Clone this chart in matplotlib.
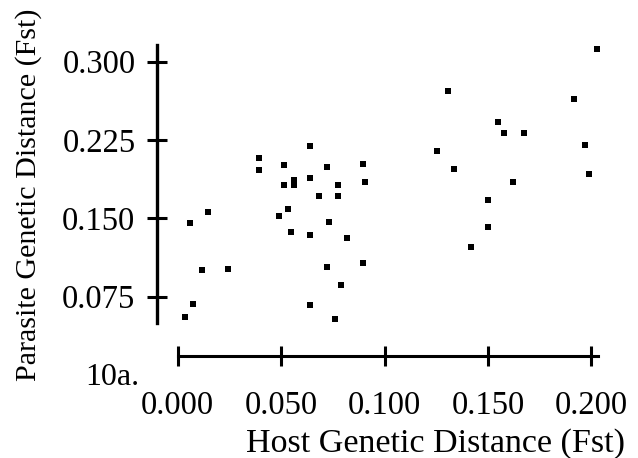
import numpy as np
import matplotlib.pyplot as plt

# ---------- data ----------
host_fst = [0.0640, 0.0395, 0.0515, 0.0720, 0.0895, 0.0395, 0.0561, 0.0640, 0.0907,
            0.0515, 0.0561, 0.0777, 0.0682, 0.0777, 0.0148, 0.0533, 0.0491, 0.0061,
            0.0733, 0.0548, 0.0640, 0.0817, 0.0118, 0.0243, 0.0723, 0.0896, 0.0790,
            0.0075, 0.0640, 0.0035, 0.0762,
            0.2028, 0.1307, 0.1918, 0.1550, 0.1579, 0.1676, 0.1254, 0.1971, 0.1338,
            0.1987, 0.1620, 0.1499, 0.1499, 0.1418]
parasite_fst = [0.219, 0.208, 0.201, 0.199, 0.202, 0.196, 0.187, 0.189, 0.1845,
                0.1816, 0.1816, 0.1819, 0.1716, 0.1716, 0.1557, 0.1586, 0.1519, 0.1455,
                0.1465, 0.1369, 0.1340, 0.1314, 0.1005, 0.1012, 0.1036, 0.1072, 0.0861,
                0.0679, 0.0667, 0.0552, 0.0538,
                0.3122, 0.2716, 0.2646, 0.2420, 0.2320, 0.2320, 0.2142, 0.2199, 0.1969,
                0.1921, 0.1848, 0.1672, 0.1420, 0.1222]

x_ticks = [0.000, 0.050, 0.100, 0.150, 0.200]
y_ticks = [0.075, 0.150, 0.225, 0.300]

# --- style ---
plt.rcParams['font.family'] = ['Liberation Serif', 'DejaVu Serif']

fig = plt.figure(figsize=(6.38, 4.58), dpi=100)
ax = fig.add_axes([0.2461, 0.2227, 0.7132, 0.6882])

ax.plot(host_fst, parasite_fst, 's', color='black', markersize=4.5, markeredgewidth=0)

ax.set_xlim(-0.01, 0.21)
ax.set_ylim(0.0181, 0.32)

# separated spines like the original
ax.spines['top'].set_visible(False)
ax.spines['right'].set_visible(False)
ax.spines['left'].set_linewidth(2.4)
ax.spines['bottom'].set_linewidth(2.2)
ax.spines['left'].set_bounds(0.0497, 0.316)
ax.spines['bottom'].set_bounds(0.0, 0.203)

ax.set_xticks(x_ticks)
ax.set_xticklabels(['%.3f' % v for v in x_ticks])
ax.set_yticks(y_ticks)
ax.set_yticklabels(['%.3f' % v for v in y_ticks])
ax.tick_params(axis='both', direction='inout', length=15, width=2.2, labelsize=23.5)
ax.tick_params(axis='x', pad=17)
ax.tick_params(axis='y', pad=8)

ax.set_xlabel('Host Genetic Distance (Fst)', fontsize=24.5, va='baseline')
ax.xaxis.set_label_coords(0.613, -0.304)
ax.set_ylabel('Parasite Genetic Distance (Fst)', fontsize=21.6)
ax.yaxis.set_label_coords(-0.253, 0.511)

fig.text(0.133, 0.159, '10a.', fontsize=23, ha='left', va='baseline')

plt.savefig('out.png', dpi=100, facecolor='white')
